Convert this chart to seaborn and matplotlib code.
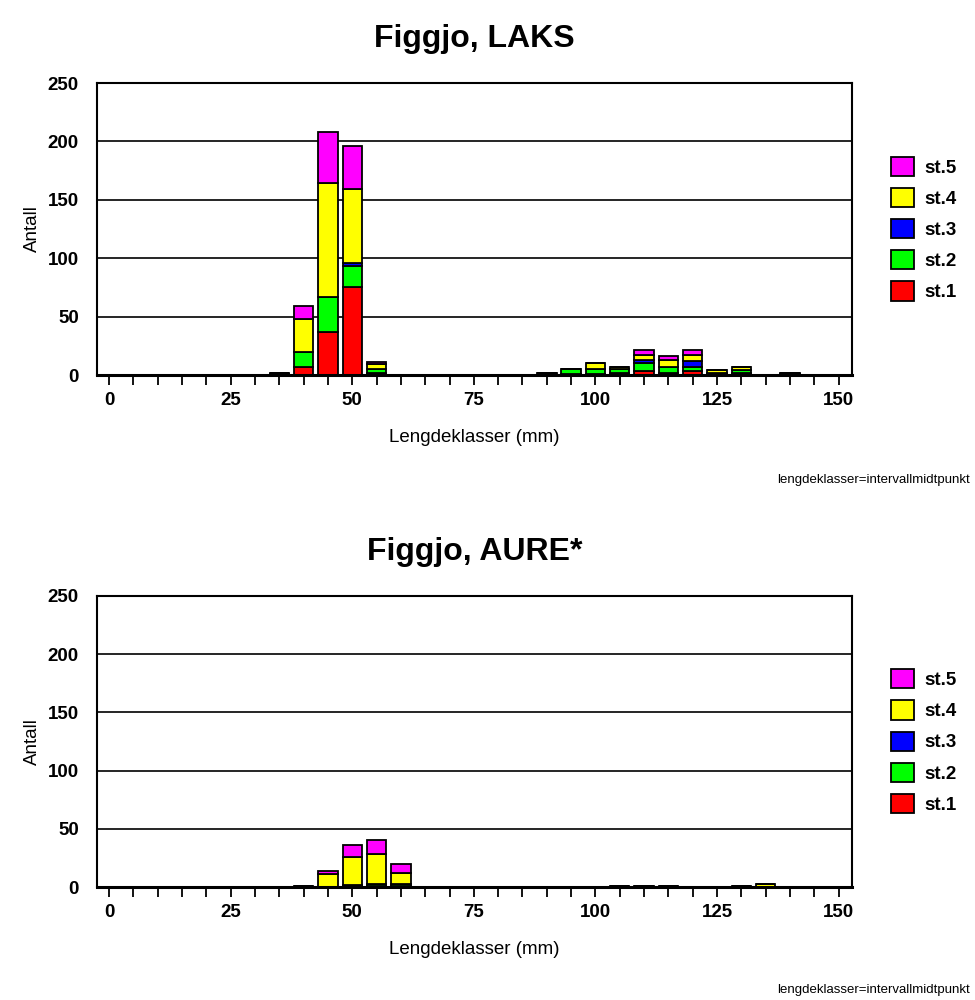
import matplotlib
matplotlib.use("Agg")
import matplotlib.pyplot as plt
from matplotlib.patches import Patch
import pandas as pd
import seaborn as sns

# ---------------- data ----------------
stations = ["st.1", "st.2", "st.3", "st.4", "st.5"]
station_colors = {"st.1": "#FF0000", "st.2": "#00FF00", "st.3": "#0000FF",
                  "st.4": "#FFFF00", "st.5": "#FF00FF"}

laks_len = [35, 40, 45, 50, 55, 90, 95, 100, 105, 110, 115, 120, 125, 130, 140]
laks_st1 = [1, 7, 37, 75, 2, 0, 1, 1, 2, 3, 2, 3, 1, 2, 1]
laks_st2 = [1, 13, 30, 18, 3, 2, 4, 4, 3, 7, 5, 4, 1, 2, 1]
laks_st3 = [0, 0, 0, 3, 0, 0, 0, 0, 0, 3, 0, 5, 0, 0, 0]
laks_st4 = [0, 28, 97, 63, 4, 0, 0, 5, 2, 4, 6, 5, 2, 3, 0]
laks_st5 = [0, 11, 44, 37, 2, 0, 0, 0, 0, 4, 3, 4, 0, 0, 0]

aure_len = [40, 45, 50, 55, 60, 105, 110, 115, 130, 135]
aure_st1 = [1, 0, 1, 1, 1, 1, 1, 1, 1, 0]
aure_st2 = [0, 0, 1, 2, 2, 0, 0, 0, 0, 0]
aure_st3 = [0, 0, 0, 0, 0, 0, 0, 0, 0, 0]
aure_st4 = [0, 11, 24, 25, 9, 0, 0, 0, 0, 3]
aure_st5 = [0, 3, 10, 12, 8, 0, 0, 0, 0, 0]

titles = ["Figgjo, LAKS", "Figgjo, AURE*"]
x_ticks_major = [0, 25, 50, 75, 100, 125, 150]
y_ticks = [0, 50, 100, 150, 200, 250]
xlabel = "Lengdeklasser (mm)"
ylabel = "Antall"
note = "lengdeklasser=intervallmidtpunkt"


def long_df(lengths, series):
    rows = []
    for st, vals in zip(stations, series):
        for L, v in zip(lengths, vals):
            rows.append({"len": L, "station": st, "count": v})
    return pd.DataFrame(rows)


df_laks = long_df(laks_len, [laks_st1, laks_st2, laks_st3, laks_st4, laks_st5])
df_aure = long_df(aure_len, [aure_st1, aure_st2, aure_st3, aure_st4, aure_st5])

# ---------------- plot ----------------
sns.set_theme(style="white")
plt.rcParams["font.family"] = ["Liberation Sans", "DejaVu Sans"]
for k in ["text.color", "axes.labelcolor", "xtick.color", "ytick.color"]:
    plt.rcParams[k] = "black"

fig = plt.figure(figsize=(9.75, 10), dpi=100)
ax1 = fig.add_axes([0.0995, 0.625, 0.774, 0.292])
ax2 = fig.add_axes([0.0995, 0.113, 0.774, 0.291])

for ax, df, title in [(ax1, df_laks, titles[0]), (ax2, df_aure, titles[1])]:
    sns.histplot(data=df, x="len", weights="count", hue="station",
                 hue_order=stations[::-1], multiple="stack",
                 binwidth=5, binrange=(-2.5, 152.5), shrink=0.8,
                 palette=station_colors, edgecolor="black", linewidth=1.3,
                 alpha=1, legend=False, ax=ax)
    ax.set_xlim(-2.5, 152.7)
    ax.set_ylim(0, 250)
    ax.set_yticks(y_ticks)
    for y in y_ticks[1:-1]:
        ax.axhline(y, color="black", lw=1.2, zorder=0)
    ax.set_xticks(list(range(0, 155, 5)), minor=True)
    ax.set_xticks(x_ticks_major)
    ax.set_xticklabels([str(t) for t in x_ticks_major], fontweight="bold", fontsize=13.5)
    ax.set_yticklabels([str(t) for t in y_ticks], fontweight="bold", fontsize=13.5)
    ax.tick_params(axis="x", which="both", direction="out", length=7, width=1.3,
                   color="black", pad=5, bottom=True)
    ax.tick_params(axis="y", length=0, pad=13)
    for s in ax.spines.values():
        s.set_visible(True)
        s.set_color("black")
        s.set_linewidth(1.5)
    ax.spines["bottom"].set_linewidth(2.2)
    ax.set_xlabel(xlabel, fontsize=13.5, labelpad=15)
    ax.set_ylabel(ylabel, fontsize=13.5, labelpad=5)
    ax.set_title(title, fontsize=23, fontweight="bold", pad=26)
    handles = [Patch(facecolor=station_colors[s], edgecolor="black", linewidth=1.3)
               for s in stations[::-1]]
    ax.legend(handles, stations[::-1], loc="center left",
              bbox_to_anchor=(1.03, 0.50), frameon=False,
              prop={"weight": "bold", "size": 13.5},
              handlelength=1.2, handleheight=1.2, labelspacing=0.6,
              handletextpad=0.55)

fig.text(0.995, 0.52, note, ha="right", va="center", fontsize=9.5)
fig.text(0.995, 0.01, note, ha="right", va="center", fontsize=9.5)

fig.savefig("out.png", dpi=100)
